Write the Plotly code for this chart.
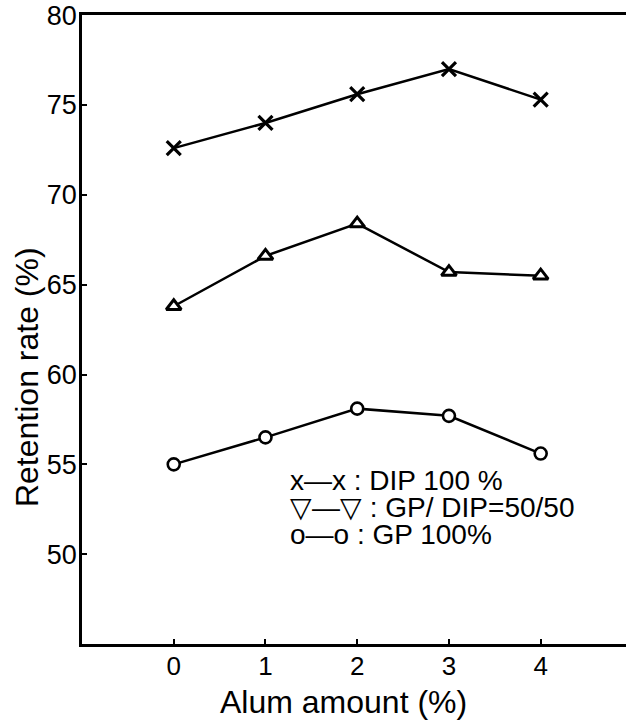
import plotly.graph_objects as go

alum = [0, 1, 2, 3, 4]
dip100 = [72.6, 74.0, 75.6, 77.0, 75.3]
gp_dip = [63.8, 66.6, 68.4, 65.7, 65.5]
gp100 = [55.0, 56.5, 58.1, 57.7, 55.6]

x_ticks = [0, 1, 2, 3, 4]
y_ticks = [50, 55, 60, 65, 70, 75, 80]

legend_rows = ["x—x : DIP 100 %", "▽—▽ : GP/ DIP=50/50", "o—o : GP 100%"]

FONT = "Liberation Sans, Arial, sans-serif"
fig = go.Figure()

fig.add_trace(go.Scatter(
    x=alum, y=dip100, mode="lines+markers",
    line=dict(color="black", width=2.5),
    marker=dict(symbol="x-thin", size=14, line=dict(color="black", width=3.2)),
    showlegend=False, cliponaxis=False))
fig.add_trace(go.Scatter(
    x=alum, y=gp_dip, mode="lines+markers",
    line=dict(color="black", width=2.5),
    marker=dict(symbol="triangle-up", size=13, color="white",
                line=dict(color="black", width=3)),
    showlegend=False))
fig.add_trace(go.Scatter(
    x=alum, y=gp100, mode="lines+markers",
    line=dict(color="black", width=2.5),
    marker=dict(symbol="circle", size=12, color="white",
                line=dict(color="black", width=2.6)),
    showlegend=False))

row_y = [0.2607, 0.2178, 0.1733]
for txt, yy in zip(legend_rows, row_y):
    fig.add_annotation(text=txt, xref="paper", yref="paper", x=0.379, y=yy,
                       xanchor="left", yanchor="middle", showarrow=False,
                       font=dict(family=FONT, size=28, color="black"))

fig.add_annotation(text="Alum amount (%)", xref="paper", yref="paper",
                   x=0.48, y=-0.0925, xanchor="center", yanchor="middle",
                   showarrow=False, font=dict(family=FONT, size=32, color="black"))
fig.add_annotation(text="Retention rate (%)", xref="paper", yref="paper",
                   x=-0.101, y=0.4245, xanchor="center", yanchor="middle",
                   textangle=-90, showarrow=False,
                   font=dict(family=FONT, size=32, color="black"))

fig.update_xaxes(range=[-1, 4.93], tickvals=x_ticks, ticktext=[str(v) for v in x_ticks],
                 ticks="inside", ticklen=5, tickwidth=2, tickcolor="black",
                 showline=True, linecolor="black", linewidth=2.5, mirror=True,
                 showgrid=False, zeroline=False, automargin=False,
                 ticklabelstandoff=-3,
                 tickfont=dict(family=FONT, size=26, color="black"))
fig.update_yaxes(range=[45, 80.01], tickvals=y_ticks, ticktext=[str(v) for v in y_ticks],
                 ticks="inside", ticklen=5, tickwidth=2, tickcolor="black",
                 showline=True, linecolor="black", linewidth=2.5, mirror=False,
                 showgrid=False, zeroline=False, automargin=False,
                 ticklabeloverflow="allow", ticklabelstandoff=-3,
                 tickfont=dict(family=FONT, size=27, color="black"))

fig.update_layout(width=626, height=721,
                  margin=dict(l=82, r=0, t=15, b=77),
                  paper_bgcolor="white", plot_bgcolor="white")

fig.write_html("out.html", config={"displayModeBar": False},
               post_script="document.body.style.margin='0';document.body.style.overflow='hidden';")
